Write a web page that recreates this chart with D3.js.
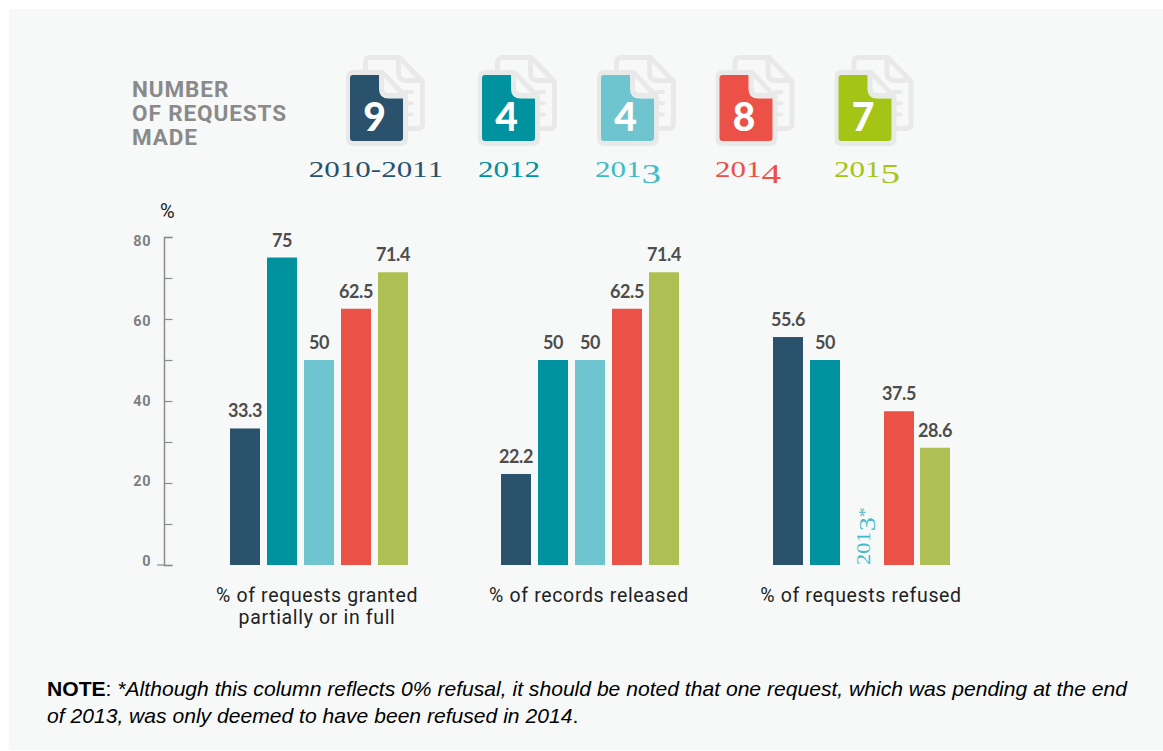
<!DOCTYPE html>
<html>
<head>
<meta charset="utf-8">
<script src="https://cdn.jsdelivr.net/npm/d3@7/dist/d3.min.js"></script>
<style>
  html, body { margin: 0; padding: 0; background: #fff; }
  svg { display: block; }
</style>
</head>
<body>
<svg id="chart" width="1163" height="751"></svg>
<script>
// Request years with their headline counts
const years = ["2010-2011", "2012", "2013", "2014", "2015"];
const requestCounts = [9, 4, 4, 8, 7];
const barColors = ["#2a526c", "#00929e", "#6fc5cf", "#ec5147", "#aec053"];
const iconColors = ["#2a526c", "#00929e", "#6fc5cf", "#ec5147", "#a4c515"];
const yearTextColors = ["#2a526c", "#00929e", "#3fbccb", "#ec5147", "#a4c515"];
const iconOffsets = [346, 478, 597, 715.5, 834.5];
const yearCentres = [376, 509, 628, 748, 867];

// Percentages per measure, one entry per year; null marks a column with no bar
const granted = [33.3, 75, 50, 62.5, 71.4];
const released = [22.2, 50, 50, 62.5, 71.4];
const refused = [55.6, 50, null, 37.5, 28.6];
const measures = [granted, released, refused];
const measureLabels = [
  ["% of requests granted", "partially or in full"],
  ["% of records released"],
  ["% of requests refused"]
];
const axisTicks = [0, 10, 20, 30, 40, 50, 60, 70, 80];
const axisLabels = [0, 20, 40, 60, 80];
const headingLines = ["NUMBER", "OF REQUESTS", "MADE"];
const noteTail1 = "*Although this column reflects 0% refusal, it should be noted that one request, which was pending at the end";
const noteTail2 = "of 2013, was only deemed to have been refused in 2014";

const svg = d3.select("#chart");
const panel = "#f7f9f9";

svg.append("rect").attr("x", 9).attr("y", 9).attr("width", 1154).attr("height", 741).attr("fill", panel);

// Scales
const y = d3.scaleLinear().domain([0, 80]).range([565, 237]);
const yLabel = d3.scaleLinear().domain([0, 80]).range([561, 240.5]);
const groupX = d3.scaleLinear().domain([0, 2]).range([230, 772.8]);
const seriesX = d3.scaleLinear().domain([0, 4]).range([0, 147.6]);
const barWidth = 30;
const groupCentre = d3.scaleLinear().domain([0, 2]).range([317, 861]);

// Y axis: marks every ten units, labels every twenty
const axisG = svg.append("g").attr("transform", "translate(164,0)");
axisG.call(d3.axisRight(y).tickValues(axisTicks).tickSize(8.5).tickFormat(""));
axisG.select(".domain").attr("stroke", "#8c8c8c").attr("stroke-width", 1.5);
axisG.selectAll(".tick line").attr("stroke", "#8c8c8c").attr("stroke-width", 1.2);
axisG.append("line").attr("x1", -7).attr("x2", 0).attr("y1", y(0)).attr("y2", y(0))
  .attr("stroke", "#8c8c8c").attr("stroke-width", 1.2);

svg.append("g").selectAll("text").data(axisLabels).join("text")
  .attr("x", 151).attr("y", d => yLabel(d)).attr("dy", "0.36em")
  .attr("text-anchor", "end")
  .attr("font-family", "Roboto").attr("font-weight", 700).attr("font-size", 14.5)
  .attr("letter-spacing", 0.5)
  .attr("fill", "#808080").text(d => d);

svg.append("text").attr("x", 160).attr("y", 218)
  .attr("font-family", "Roboto").attr("font-size", 20).attr("fill", "#222").text("%");

// Bars and their value labels, snapped to whole pixels across the group
measures.forEach((values, g) => {
  const group = svg.append("g");
  const rows = values.map((v, i) => ({ v, i })).filter(d => d.v !== null);
  const left = d => Math.round(groupX(g) + seriesX(d.i));
  group.selectAll("rect").data(rows).join("rect")
    .attr("x", left)
    .attr("y", d => y(d.v))
    .attr("width", barWidth)
    .attr("height", d => y(0) - y(d.v))
    .attr("fill", d => barColors[d.i]);
  group.selectAll("text").data(rows).join("text")
    .attr("x", d => left(d) + barWidth / 2)
    .attr("y", d => y(d.v) - 11)
    .attr("text-anchor", "middle")
    .attr("font-family", "Lato").attr("font-weight", 700).attr("font-size", 18)
    .attr("letter-spacing", -0.4)
    .attr("fill", "#4d4d4d").text(d => d.v);
});

// Category captions beneath each group
measureLabels.forEach((lines, g) => {
  lines.forEach((line, k) => {
    svg.append("text")
      .attr("x", groupCentre(g)).attr("y", 602 + k * 21.5)
      .attr("text-anchor", "middle")
      .attr("font-family", "Roboto").attr("font-size", 19.5)
      .attr("letter-spacing", 0.65)
      .attr("fill", "#222").text(line);
  });
});

// Heading at the top left
headingLines.forEach((line, k) => {
  svg.append("text").attr("x", 132).attr("y", 96.5 + k * 24)
    .attr("font-family", "Roboto").attr("font-weight", 700).attr("font-size", 22.5)
    .attr("letter-spacing", 0.9)
    .attr("fill", "#8a8a8a").text(line);
});

// Serif year text; 3, 4 and 5 are set larger and below the line in the old-style manner
function yearText(sel, label, size) {
  let previous = 0;
  [...label].forEach(ch => {
    const tall = "345".includes(ch);
    const drop = tall ? size * 0.27 : 0;
    sel.append("tspan").attr("dy", drop - previous)
      .attr("font-size", tall ? size * 1.26 : size).text(ch);
    previous = drop;
  });
  return previous;
}

// Document icons with the count on the front sheet
const sheetOutline = "M5,0 H34 L57,24 V66 Q57,71 52,71 H5 Q0,71 0,66 V5 Q0,0 5,0 Z";
const foldLine = "M33,0 V15 Q33,23 41,23 H57";
const colourSheet = "M3,0 H29 V14 Q29,23.5 39,23.5 H53 V63 Q53,66 50,66 H3 Q0,66 0,63 V3 Q0,0 3,0 Z";
const lineGray = "#e9e9e9";

years.forEach((year, i) => {
  const g = svg.append("g").attr("transform", `translate(${iconOffsets[i]},70)`);
  const back = g.append("g").attr("transform", "translate(19.5,-12.5)");
  back.append("path").attr("d", sheetOutline)
    .attr("fill", "none").attr("stroke", lineGray).attr("stroke-width", 5);
  back.append("path").attr("d", foldLine).attr("fill", "none").attr("stroke", lineGray).attr("stroke-width", 5);
  [0, 1, 2].forEach(k => {
    g.append("line").attr("x1", 60).attr("x2", 66).attr("y1", 22 + k * 11.3).attr("y2", 22 + k * 11.3)
      .attr("stroke", lineGray).attr("stroke-width", 4).attr("stroke-linecap", "round");
  });
  const front = g.append("g").attr("transform", "translate(2.5,2.5)");
  front.append("path").attr("d", sheetOutline).attr("fill", panel).attr("stroke", lineGray).attr("stroke-width", 5);
  front.append("path").attr("d", foldLine).attr("fill", "none").attr("stroke", lineGray).attr("stroke-width", 5);
  g.append("path").attr("d", colourSheet).attr("transform", "translate(4,5)").attr("fill", iconColors[i]);
  g.append("text").attr("x", 28.5).attr("y", 61)
    .attr("text-anchor", "middle")
    .attr("font-family", "Lato").attr("font-weight", 900).attr("font-size", 39)
    .attr("fill", "#fff").text(requestCounts[i]);

  const label = svg.append("text")
    .attr("transform", `translate(${yearCentres[i]},177) scale(1.38,1)`)
    .attr("text-anchor", "middle")
    .attr("font-family", "Liberation Serif").attr("font-size", 22.5)
    .attr("fill", yearTextColors[i]);
  yearText(label, year, 22.5);
});

// Rotated marker where the 2013 column has no bar
const marker = svg.append("text")
  .attr("transform", `translate(870,565) rotate(-90) scale(1.18,1)`)
  .attr("font-family", "Liberation Serif").attr("font-size", 19)
  .attr("fill", yearTextColors[2]);
const markerDrop = yearText(marker, "2013", 19);
marker.append("tspan").attr("dy", -markerDrop).attr("font-size", 17).text("*");

// Footnote
const note = svg.append("g").attr("font-family", "Liberation Sans").attr("font-size", 21.1).attr("fill", "#000");
const noteLine1 = note.append("text").attr("x", 47).attr("y", 695.5);
noteLine1.append("tspan").attr("font-weight", 700).text("NOTE");
noteLine1.append("tspan").text(": ");
noteLine1.append("tspan").attr("font-style", "italic").text(noteTail1);
const noteLine2 = note.append("text").attr("x", 47).attr("y", 723);
noteLine2.append("tspan").attr("font-style", "italic").text(noteTail2);
noteLine2.append("tspan").text(".");
</script>
</body>
</html>
